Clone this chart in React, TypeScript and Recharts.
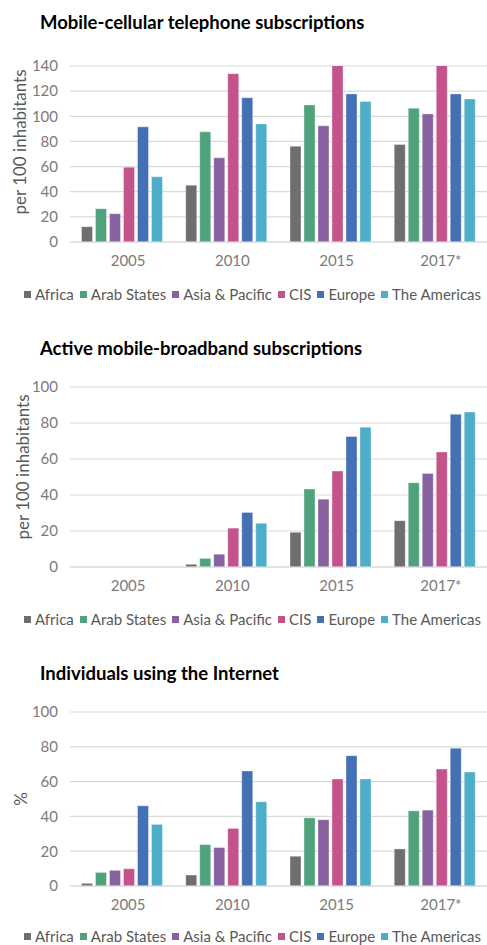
import React from 'react'
import { BarChart, Bar, XAxis, YAxis, CartesianGrid, Legend } from 'recharts'

const years = ['2005', '2010', '2015', '2017*']

const regions = ['Africa', 'Arab States', 'Asia & Pacific', 'CIS', 'Europe', 'The Americas']
const regionColors = ['#6e6e6e', '#4fa27c', '#8761a0', '#c4528b', '#4470b5', '#4eadc9']

// Mobile-cellular, per 100 inhabitants (CIS is cut off at the top of the axis)
const cellAfrica = [12.2, 45.2, 76.2, 77.5]
const cellArab = [26.5, 87.6, 109, 106.4]
const cellAsia = [22.5, 67, 92.4, 101.9]
const cellCIS = [59.5, 133.9, 141, 141]
const cellEurope = [91.6, 114.8, 117.8, 117.8]
const cellAmericas = [51.9, 93.9, 111.7, 113.8]
const cellTicks = [0, 20, 40, 60, 80, 100, 120, 140]

// Active mobile-broadband, per 100 inhabitants
const mbAfrica = [0, 1.5, 19.3, 25.7]
const mbArab = [0, 4.8, 43.3, 46.8]
const mbAsia = [0, 7.1, 37.7, 52]
const mbCIS = [0, 21.6, 53.3, 63.9]
const mbEurope = [0, 30.3, 72.5, 84.9]
const mbAmericas = [0, 24.3, 77.7, 86.1]

// Individuals using the Internet, %
const netAfrica = [1.5, 6.3, 17.1, 21.3]
const netArab = [7.8, 23.8, 39.2, 43.2]
const netAsia = [9, 22.1, 38.1, 43.6]
const netCIS = [9.9, 33.1, 61.5, 67.2]
const netEurope = [46.1, 66.1, 74.9, 79.2]
const netAmericas = [35.4, 48.4, 61.5, 65.5]
const pctTicks = [0, 20, 40, 60, 80, 100]

const buildRows = (series: number[][]) =>
  years.map((year, i) => {
    const row: Record<string, string | number> = { year }
    regions.forEach((r, j) => {
      row[r] = series[j][i]
    })
    return row
  })

const FONT = 'Lato, "Open Sans", sans-serif'

// compact one-line legend, Excel style
const renderLegend = (props: any) => {
  const items = props.payload || []
  return (
    <div
      style={{
        display: 'flex',
        justifyContent: 'center',
        alignItems: 'center',
        height: 20,
        whiteSpace: 'nowrap',
        fontFamily: FONT,
        fontSize: 15,
        color: '#595959',
        paddingLeft: 24,
      }}
    >
      {items.map((it: any) => (
        <span key={it.value} style={{ display: 'inline-flex', alignItems: 'center', marginRight: 6 }}>
          <span style={{ width: 7, height: 7, background: it.color, marginRight: 4, display: 'inline-block' }} />
          {it.value}
        </span>
      ))}
    </div>
  )
}

interface BlockProps {
  title: string
  titleY: number
  yLabel: string
  labelDy: number
  labelX: number
  data: Record<string, string | number>[]
  max: number
  ticks: number[]
  height: number
  plotTop: number
  xAxisHeight: number
  bottom: number
}

function ChartBlock(p: BlockProps) {
  return (
    <div style={{ position: 'relative', width: 487, height: p.height }}>
      <div
        style={{
          position: 'absolute',
          left: 40,
          top: p.titleY - 12,
          fontFamily: FONT,
          fontWeight: 700,
          fontSize: 18.5,
          lineHeight: '24px',
          color: '#000',
          whiteSpace: 'nowrap',
        }}
      >
        {p.title}
      </div>
      <BarChart
        width={487}
        height={p.height}
        data={p.data}
        margin={{ top: p.plotTop, right: 0, left: 0, bottom: p.bottom }}
        barCategoryGap={11.5}
        barGap={3}
        style={{ fontFamily: FONT }}
      >
        <CartesianGrid vertical={false} stroke="#d9d9d9" strokeWidth={1.2} />
        <XAxis
          dataKey="year"
          height={p.xAxisHeight}
          tickLine={false}
          axisLine={{ stroke: '#d9d9d9', strokeWidth: 1.2 }}
          tickSize={0}
          tickMargin={13}
          tick={{ fill: '#7a7a7a', fontSize: 15, dx: 6 }}
        />
        <YAxis
          width={70}
          domain={[0, p.max]}
          ticks={p.ticks}
          allowDataOverflow
          interval={0}
          tickLine={false}
          axisLine={false}
          tickSize={0}
          tickMargin={12}
          tick={{ fill: '#7a7a7a', fontSize: 15 }}
          label={{
            content: (props: any) => {
              const vb = props.viewBox || { x: 0, y: 0, width: 0, height: 0 }
              const cy = vb.y + vb.height / 2 + p.labelDy
              return (
                <text
                  x={p.labelX}
                  y={cy}
                  transform={`rotate(-90, ${p.labelX}, ${cy})`}
                  textAnchor="middle"
                  dominantBaseline="central"
                  fill="#595959"
                  fontSize={17}
                  fontFamily={FONT}
                >
                  {p.yLabel}
                </text>
              )
            },
          }}
        />
        <Legend verticalAlign="bottom" content={renderLegend} />
        {regions.map((r, i) => (
          <Bar
            key={r}
            dataKey={r}
            fill={regionColors[i]}
            stroke="#ffffff"
            strokeOpacity={0.35}
            strokeWidth={1}
            isAnimationActive={false}
          />
        ))}
      </BarChart>
    </div>
  )
}

export default function App() {
  const cellData = buildRows([cellAfrica, cellArab, cellAsia, cellCIS, cellEurope, cellAmericas])
  const mbData = buildRows([mbAfrica, mbArab, mbAsia, mbCIS, mbEurope, mbAmericas])
  const netData = buildRows([netAfrica, netArab, netAsia, netCIS, netEurope, netAmericas])

  return (
    <div style={{ width: 487, background: '#fff' }}>
      <style>{'body{margin:0;background:#fff}'}</style>
      <ChartBlock
        title="Mobile-cellular telephone subscriptions"
        titleY={22}
        yLabel="per 100 inhabitants"
        labelDy={-12}
        labelX={19}
        data={cellData}
        max={140}
        ticks={cellTicks}
        height={315}
        plotTop={66}
        xAxisHeight={42}
        bottom={11}
      />
      <ChartBlock
        title="Active mobile-broadband subscriptions"
        titleY={33}
        yLabel="per 100 inhabitants"
        labelDy={-10}
        labelX={22}
        data={mbData}
        max={100}
        ticks={pctTicks}
        height={315}
        plotTop={72}
        xAxisHeight={42}
        bottom={1}
      />
      <ChartBlock
        title="Individuals using the Internet"
        titleY={43}
        yLabel="%"
        labelDy={0}
        labelX={20}
        data={netData}
        max={100}
        ticks={pctTicks}
        height={320}
        plotTop={82}
        xAxisHeight={40}
        bottom={4}
      />
    </div>
  )
}
